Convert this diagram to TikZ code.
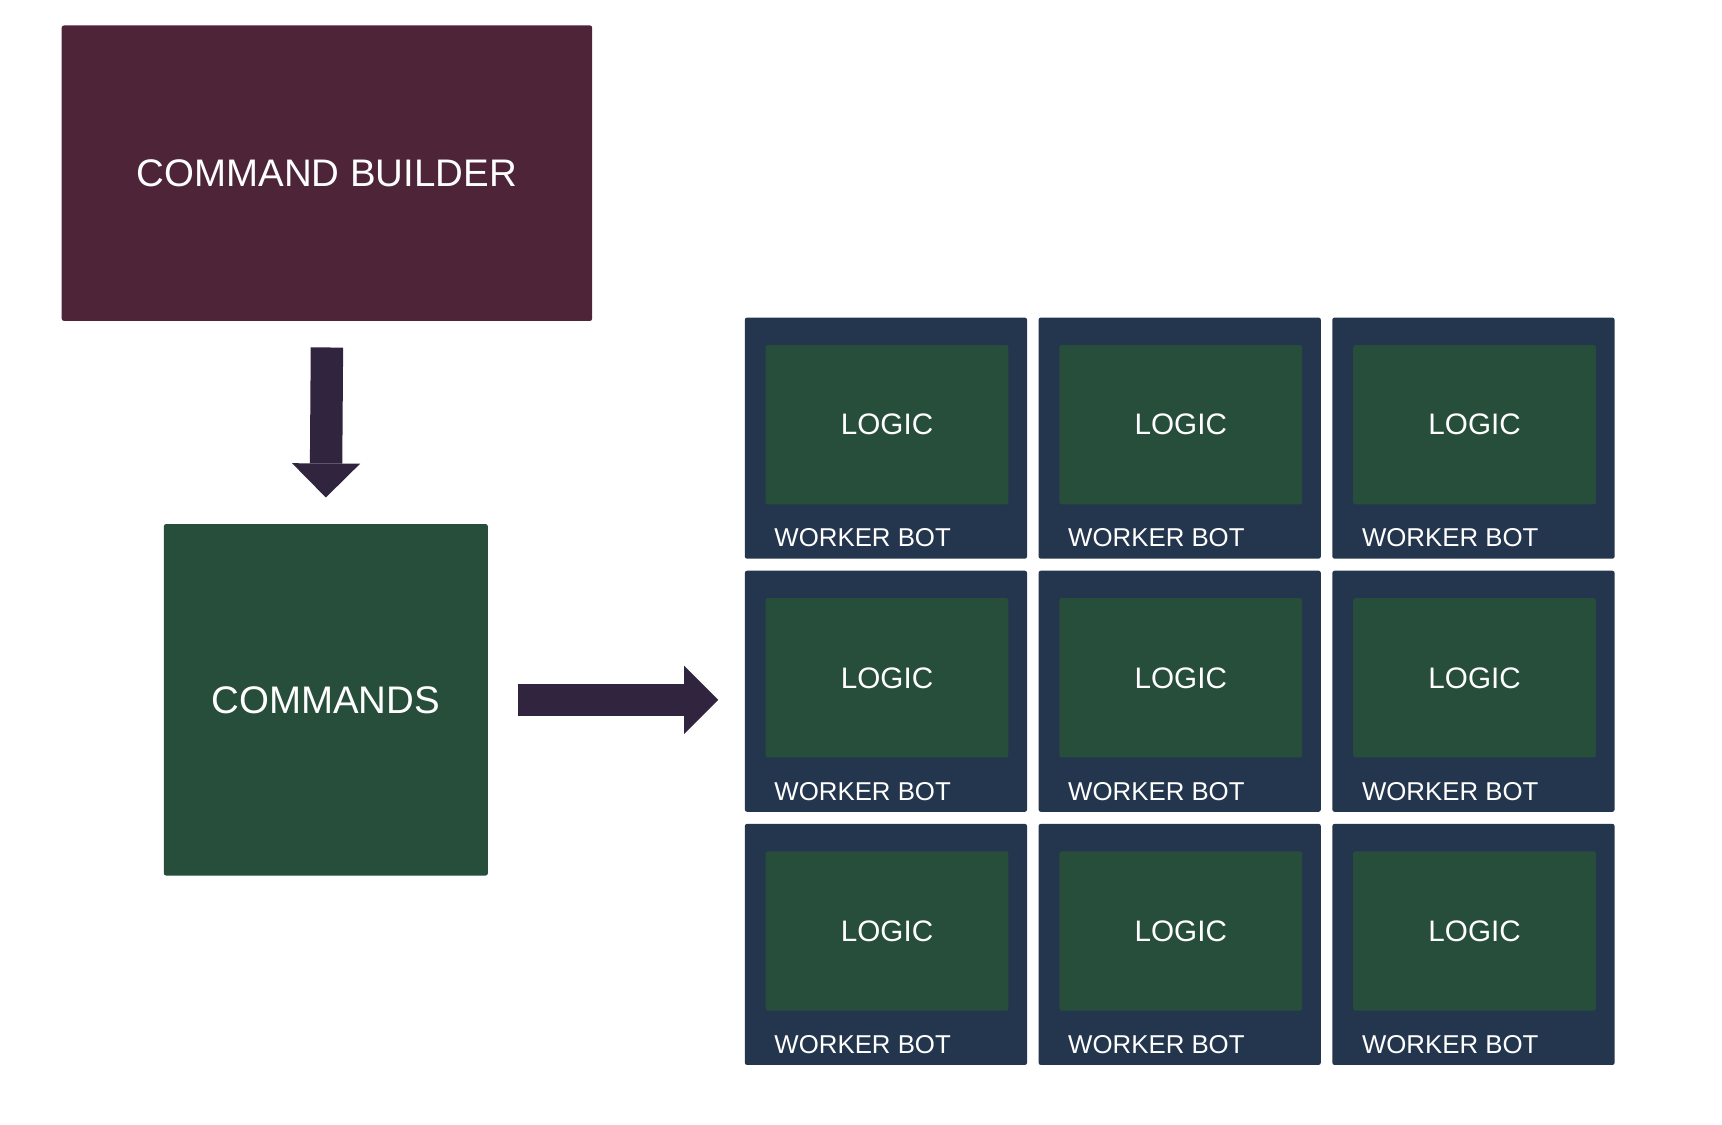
\documentclass[tikz,border=0pt]{standalone}
\usepackage{fontspec}
\setmainfont{Liberation Sans}
\usetikzlibrary{arrows.meta,calc}
\definecolor{builderc}{HTML}{4E2439}
\definecolor{greenc}{HTML}{264E3A}
\definecolor{navyc}{HTML}{24364D}
\definecolor{arrowc}{HTML}{31243E}
\begin{document}
\begin{tikzpicture}[x=1pt,y=-1pt,
  box/.style={rounded corners=2pt, inner sep=0pt, text=white, anchor=north west},
  bigtext/.style={font=\fontsize{35}{42}\selectfont},
  logictext/.style={font=\fontsize{27}{32}\selectfont},
  worktext/.style={font=\fontsize{23.5}{28}\selectfont, text=white, inner sep=0pt, anchor=base west},
  workerbox/.style={box, fill=navyc, minimum width=257pt, minimum height=219.5pt},
  logicbox/.style={box, fill=greenc, minimum width=221pt, minimum height=145pt, logictext},
  bigarrow/.style={draw=arrowc, line width=29.5pt,
    -{Triangle[length=31pt 0 0, width=62pt 0 0, line width=0pt, fill=arrowc]}}]
\useasboundingbox[fill=white] (0,0) rectangle (1568,1024);
\node[box, fill=builderc, minimum width=483pt, minimum height=269pt, bigtext] (builder) at (56,23) {COMMAND BUILDER};
\node[box, fill=greenc, minimum width=295pt, minimum height=320pt, bigtext] (commands) at (149,477) {COMMANDS};
\foreach \i in {0,1,2}{
  \foreach \j in {0,1,2}{
    \node[workerbox] (w\i\j) at ({678+267.5*\i},{289+230.5*\j}) {};
    \node[logicbox] (l\i\j) at ($(w\i\j.north west)+(19,25)$) {LOGIC};
    \node[worktext] (t\i\j) at ($(w\i\j.north west)+(27,209)$) {WORKER BOT};
  }
}
\draw[bigarrow] ($(builder.south)+(0,24)$) -- ($(commands.north)+(0,-24)$);
\draw[bigarrow] ($(commands.east)+(27,0)$) -- ($(commands.east -| w01.west)+(-24,0)$);
\end{tikzpicture}
\end{document}
